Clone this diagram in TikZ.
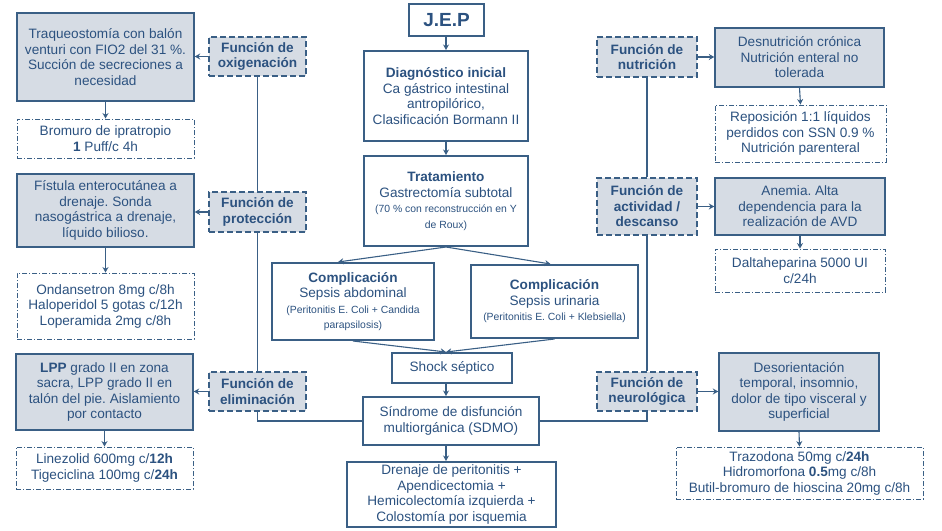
\documentclass[tikz,border=0pt]{standalone}
\usepackage{fontspec}
\setmainfont{Liberation Sans}
\frenchspacing
\usetikzlibrary{arrows.meta,calc}
\definecolor{bordc}{HTML}{3A5F85}
\definecolor{txtc}{HTML}{2C5280}
\definecolor{fillc}{HTML}{D6DCE4}
\newcommand{\smtxt}{\fontsize{10.4}{12}\selectfont}
\tikzset{
  basebox/.style={inner sep=0pt, align=center, text=txtc, font=\fontsize{13.6}{15.5}\selectfont},
  mainbox/.style={basebox, draw=bordc, line width=2pt, fill=white},
  probbox/.style={basebox, draw=bordc, line width=1.4pt, fill=fillc},
  funcbox/.style={basebox, draw=bordc, line width=1.2pt, dash pattern=on 6pt off 3pt, fill=fillc, font=\fontsize{13.6}{15.5}\selectfont\bfseries},
  medbox/.style={basebox, draw=bordc, line width=0.9pt, dash pattern=on 5pt off 2pt on 1pt off 2pt, fill=white},
  conn/.style={draw=bordc, line width=1.1pt},
  arr/.style={conn, -{Stealth[length=5.5pt,width=6pt]}},
}
\newcommand{\bx}[6]{\node[#1, minimum width=#4pt, minimum height=#5pt] (#2) at (#3) {#6};}
\begin{document}
\begin{tikzpicture}[x=1pt,y=-1pt]
\useasboundingbox (0,0) rectangle (942,530);
% left column
\bx{probbox}{L1}{105.5,57}{177}{88}{Traqueostomía con balón\\venturi con FIO2 del 31 \%.\\Succión de secreciones a\\necesidad}
\bx{medbox}{L1b}{105.5,138.5}{177}{39}{Bromuro de ipratropio\\\textbf{1} Puff/c 4h}
\bx{funcbox}{oxi}{257.5,56.5}{97}{39}{Función de\\oxigenación}
\bx{probbox}{L2}{105.5,210.5}{177}{73}{Fístula enterocutánea a\\drenaje. Sonda\\nasogástrica a drenaje,\\líquido bilioso.}
\bx{funcbox}{prot}{257.5,212}{97}{40}{Función de\\protección}
\bx{medbox}{L2b}{105.5,306}{177}{66}{Ondansetron 8mg c/8h\\Haloperidol 5 gotas c/12h\\Loperamida 2mg c/8h}
\bx{probbox}{L3}{104.5,392}{177}{76}{\textbf{LPP} grado II en zona\\sacra, LPP grado II en\\talón del pie. Aislamiento\\por contacto}
\bx{funcbox}{elim}{257.5,391.5}{97}{39}{Función de\\eliminación}
\bx{medbox}{L3b}{104.5,468}{177}{42}{Linezolid 600mg c/\textbf{12h}\\Tigeciclina 100mg c/\textbf{24h}}
% center column
\bx{mainbox}{jep}{446.5,20}{75}{32}{\fontsize{19}{21}\selectfont\bfseries J.E.P}
\bx{mainbox}{diag}{446,96}{164}{90}{\textbf{Diagnóstico inicial}\\Ca gástrico intestinal\\antropilórico,\\Clasificación Bormann II}
\bx{mainbox}{trat}{446,201}{164}{90}{\textbf{Tratamiento}\\Gastrectomía subtotal\\{\smtxt (70 \% con reconstrucción en Y}\\{\smtxt de Roux)}}
\bx{mainbox}{comp1}{353,301.5}{162}{77}{\textbf{Complicación}\\Sepsis abdominal\\{\smtxt (Peritonitis E. Coli + Candida}\\{\smtxt parapsilosis)}}
\bx{mainbox}{comp2}{554.5,301.5}{167}{73}{\textbf{Complicación}\\Sepsis urinaria\\{\smtxt (Peritonitis E. Coli + Klebsiella)}}
\bx{mainbox}{shock}{452,368}{120}{30}{Shock séptico}
\bx{mainbox}{sdmo}{451,421}{176}{48}{Síndrome de disfunción\\multiorgánica (SDMO)}
\bx{mainbox}{dren}{451.5,494.5}{209}{65}{Drenaje de peritonitis +\\Apendicectomia +\\Hemicolectomía izquierda +\\Colostomía por isquemia}
% right column
\bx{funcbox}{nut}{647,57}{100}{40}{Función de\\nutrición}
\bx{probbox}{R1}{799.5,57.5}{169}{59}{Desnutrición crónica\\Nutrición enteral no\\tolerada}
\bx{medbox}{R1b}{800.5,133.5}{171}{57}{Reposición 1:1 líquidos\\perdidos con SSN 0.9 \%\\Nutrición parenteral}
\bx{funcbox}{act}{647,206.5}{100}{57}{Función de\\actividad /\\descanso}
\bx{probbox}{R2}{800,206.5}{170}{57}{Anemia. Alta\\dependencia para la\\realización de AVD}
\bx{medbox}{R2b}{800,270.5}{170}{43}{Daltaheparina 5000 UI\\c/24h}
\bx{funcbox}{neu}{647,391.5}{100}{39}{Función de\\neurológica}
\bx{probbox}{R3}{799,392}{160}{78}{Desorientación\\temporal, insomnio,\\dolor de tipo visceral y\\superficial}
\bx{medbox}{R3b}{799.5,473}{247}{52}{Trazodona 50mg c/\textbf{24h}\\Hidromorfona \textbf{0.5}mg c/8h\\Butil-bromuro de hioscina 20mg c/8h}
% center connectors
\draw[arr] (jep.south -| trat.south) -- (diag.north -| trat.south);
\draw[arr] (diag.south) -- (trat.north);
\draw[arr] (trat.south) -- ($(comp1.north)+(-15,0)$);
\draw[arr] (trat.south) -- ($(comp2.north)+(-4,0)$);
\draw[arr] (comp1.south) -- (shock.north -| trat.south);
\draw[arr] (comp2.south) -- (shock.north -| trat.south);
\draw[arr] (shock.south -| trat.south) -- (sdmo.north -| trat.south);
\draw[arr] (sdmo.south -| trat.south) -- (dren.north -| trat.south);
% left connectors
\draw[arr] (oxi.west) -- (oxi.west -| L1.east);
\draw[arr] (prot.west) -- (prot.west -| L2.east);
\draw[arr] (elim.west) -- (elim.west -| L3.east);
\draw[arr] (L1.south) -- (L1b.north);
\draw[arr] (L2.south) -- (L2b.north);
\draw[arr] (L3.south) -- (L3b.north);
\draw[conn] (oxi.south) -- (prot.north);
\draw[conn] (prot.south) -- (elim.north);
\draw[conn] (elim.south) |- (sdmo.west);
% right connectors
\draw[arr] (nut.east) -- (nut.east -| R1.west);
\draw[arr] (act.east) -- (act.east -| R2.west);
\draw[arr] (neu.east) -- (neu.east -| R3.west);
\draw[arr] (R1.south) -- (R1b.north);
\draw[arr] (R2.south) -- (R2b.north);
\draw[arr] (R3.south) -- (R3b.north);
\draw[conn] (nut.south) -- (act.north);
\draw[conn] (act.south) -- (neu.north);
\draw[conn] (neu.south) |- (sdmo.east);
\end{tikzpicture}
\end{document}
